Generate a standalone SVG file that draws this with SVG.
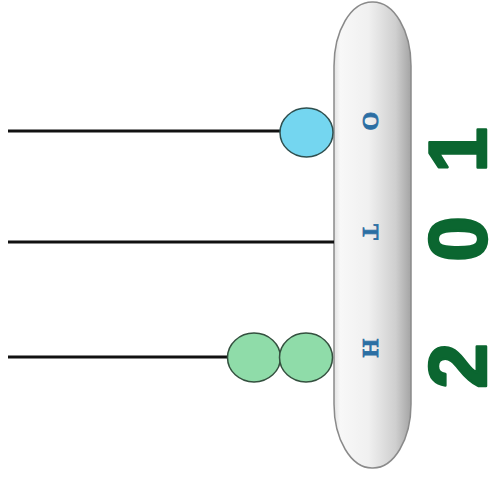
<svg xmlns="http://www.w3.org/2000/svg" width="492" height="479" viewBox="0 0 492 479">
<defs>
<linearGradient id="capg" x1="0" y1="0" x2="1" y2="0">
<stop offset="0" stop-color="#e2e2e2"/>
<stop offset="0.08" stop-color="#f8f8f8"/>
<stop offset="0.45" stop-color="#f0f0f0"/>
<stop offset="0.8" stop-color="#cfcfcf"/>
<stop offset="1" stop-color="#a4a4a4"/>
</linearGradient>
<style>
.wire{stroke:#111;stroke-width:3;fill:none}
.blue{fill:#74d6f0;stroke:#2f4f4f;stroke-width:1.5}
.green{fill:#8fdca9;stroke:#34503f;stroke-width:1.5}
.lbl{font-family:"Liberation Serif",serif;font-weight:bold;font-size:24px;fill:#2b6ea3;text-anchor:middle;stroke:#2b6ea3;stroke-width:0.8}
.num{font-family:"Liberation Sans",Arial,sans-serif;font-weight:bold;font-size:82px;fill:#0b6630;stroke:#0b6630;stroke-width:2.5;stroke-linejoin:round;text-anchor:middle}
</style>
</defs>
<g id="capsule">
<rect x="334" y="2" width="77" height="466" rx="38" ry="64" fill="url(#capg)" stroke="#8a8a8a" stroke-width="1.5"/>
<text class="lbl" transform="translate(371,121) rotate(90)" y="8">O</text>
<text class="lbl" transform="translate(371,232) rotate(90)" y="8">T</text>
<text class="lbl" transform="translate(371,348) rotate(90)" y="8">H</text>
</g>
<g id="connectors">
<line class="wire" x1="8" y1="131" x2="282" y2="131"/>
<line class="wire" x1="8" y1="242" x2="334" y2="242"/>
<line class="wire" x1="8" y1="357" x2="228" y2="357"/>
</g>
<g id="node-blue">
<ellipse class="blue" cx="306.5" cy="132.5" rx="26.5" ry="24.5"/>
</g>
<g id="node-green1">
<ellipse class="green" cx="254" cy="357.5" rx="26.5" ry="24.5"/>
</g>
<g id="node-green2">
<ellipse class="green" cx="306" cy="357.5" rx="26.5" ry="24.5"/>
</g>
<g id="year">
<text class="num" transform="translate(457,150) rotate(-90)" y="29">1</text>
<text class="num" transform="translate(457,239) rotate(-90)" y="29">0</text>
<text class="num" transform="translate(457,366) rotate(-90)" y="29">2</text>
</g>
</svg>
